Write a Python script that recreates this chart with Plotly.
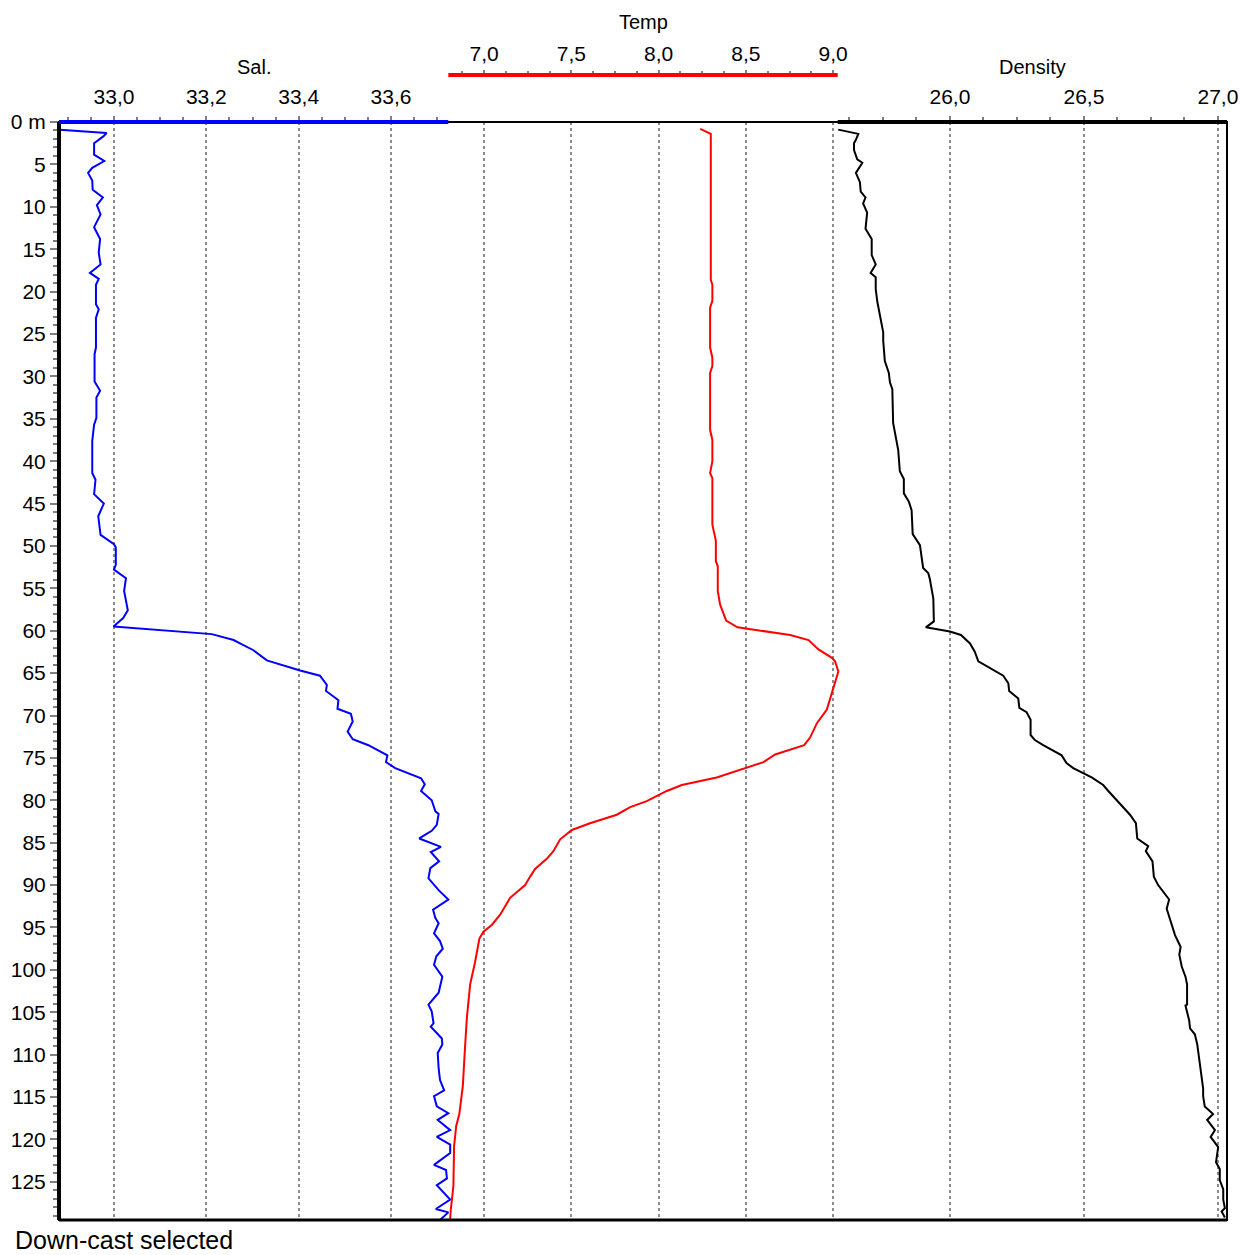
import plotly.graph_objects as go

# ---------------- data ----------------
sal_depth = [0.9, 1.3, 1.7, 2.5, 3.85, 4.6, 5.4, 6.0, 6.9, 8.0, 8.9, 9.8, 10.9, 12.4, 13.8, 15.4, 16.8,
             17.8, 18.5, 19.2, 21.5, 22.1, 23.1, 26.6, 27.4, 30.6, 31.7, 32.5, 34.9, 35.7, 37.6, 41.4,
             42.2, 43.9, 45.0, 46.5, 48.7, 49.8, 50.2, 52.2, 52.8, 53.8, 55.3, 57.6, 58.5, 59.5, 60.4,
             61.1, 61.5, 62.3, 63.5, 64.7, 65.3, 66.4, 67.1, 68.2, 69.2, 69.8, 70.7, 71.9, 72.8, 73.5,
             74.7, 75.5, 76.2, 77.4, 78.1, 78.9, 80.0, 81.3, 81.6, 82.9, 83.6, 84.5, 85.5, 86.1, 87.2,
             88.0, 89.2, 90.6, 91.7, 92.9, 93.9, 94.5, 95.7, 96.6, 97.5, 98.4, 99.4, 100.8, 102.7, 104.1,
             104.9, 106.3, 106.7, 108.1, 108.8, 109.8, 111.6, 113.0, 114.2, 114.9, 116.1, 116.9, 117.7,
             118.9, 119.7, 120.6, 121.6, 123.0, 123.6, 124.6, 125.4, 127.1, 128.2, 128.6, 129.5]
sal = [32.883, 32.984, 32.977, 32.957, 32.957, 32.979, 32.953, 32.944, 32.953, 32.954, 32.976, 32.963,
       32.971, 32.957, 32.970, 32.967, 32.971, 32.948, 32.967, 32.961, 32.961, 32.967, 32.961, 32.961,
       32.958, 32.958, 32.970, 32.962, 32.962, 32.957, 32.953, 32.953, 32.960, 32.957, 32.978, 32.966,
       32.971, 33.000, 33.004, 33.004, 33.000, 33.026, 33.022, 33.030, 33.020, 32.999, 33.212, 33.259,
       33.273, 33.302, 33.331, 33.403, 33.446, 33.461, 33.459, 33.486, 33.484, 33.513, 33.517, 33.506,
       33.517, 33.551, 33.592, 33.589, 33.609, 33.665, 33.673, 33.665, 33.688, 33.696, 33.703, 33.699,
       33.688, 33.661, 33.708, 33.686, 33.704, 33.685, 33.681, 33.703, 33.724, 33.691, 33.696, 33.703,
       33.693, 33.706, 33.712, 33.698, 33.693, 33.711, 33.703, 33.681, 33.688, 33.692, 33.686, 33.710,
       33.711, 33.701, 33.703, 33.706, 33.715, 33.693, 33.699, 33.724, 33.701, 33.728, 33.699, 33.728,
       33.728, 33.693, 33.719, 33.721, 33.699, 33.728, 33.697, 33.724, 33.706]

temp_depth = [0.8, 1.4, 18.6, 19.2, 21.1, 21.9, 26.6, 27.8, 28.8, 29.6, 36.3, 37.5, 40.0, 41.4, 42.0,
              47.5, 49.4, 51.8, 52.4, 55.3, 56.9, 57.7, 58.8, 59.6, 60.5, 61.1, 62.2, 63.2, 63.6, 64.8,
              67.4, 69.3, 70.9, 72.6, 73.5, 74.6, 75.5, 76.2, 77.3, 78.2, 78.9, 79.4, 80.1, 80.8, 81.7,
              82.7, 83.5, 84.6, 86.0, 86.9, 88.1, 89.0, 90.0, 91.5, 93.5, 94.7, 95.5, 96.3, 99.1, 101.7,
              105.7, 109.0, 113.7, 117.0, 118.4, 120.8, 125.5, 128.3, 129.5]
temp = [8.238, 8.299, 8.299, 8.308, 8.308, 8.295, 8.295, 8.308, 8.308, 8.295, 8.295, 8.308, 8.308,
        8.295, 8.308, 8.308, 8.328, 8.328, 8.339, 8.339, 8.352, 8.366, 8.387, 8.452, 8.754, 8.859,
        8.916, 8.993, 9.011, 9.030, 8.993, 8.964, 8.907, 8.868, 8.834, 8.668, 8.601, 8.501, 8.333,
        8.133, 8.047, 7.999, 7.932, 7.837, 7.760, 7.607, 7.503, 7.436, 7.397, 7.359, 7.292, 7.264,
        7.235, 7.149, 7.092, 7.044, 6.996, 6.973, 6.948, 6.920, 6.901, 6.891, 6.878, 6.858, 6.840,
        6.828, 6.824, 6.809, 6.805]

dens_depth = [0.9, 1.4, 2.1, 2.5, 3.3, 4.4, 4.8, 6.0, 7.1, 8.2, 8.9, 9.6, 10.7, 12.6, 13.8, 15.7, 16.8,
              17.8, 18.3, 19.7, 21.2, 23.1, 24.8, 25.8, 28.2, 29.6, 30.7, 31.5, 35.5, 38.7, 41.2, 42.1,
              43.8, 44.8, 45.8, 48.6, 49.4, 49.9, 52.6, 53.2, 53.9, 56.2, 58.9, 59.6, 60.1, 60.5, 61.5,
              62.5, 63.6, 64.8, 65.3, 66.2, 67.1, 68.0, 69.1, 69.6, 70.5, 72.3, 72.9, 73.5, 74.7, 75.6,
              76.2, 77.3, 78.2, 78.9, 80.6, 81.7, 82.7, 84.5, 85.4, 86.0, 87.2, 89.0, 90.0, 91.7, 92.8,
              94.0, 95.9, 97.3, 98.2, 99.6, 100.8, 101.7, 104.1, 104.2, 106.0, 106.9, 107.6, 108.8,
              114.0, 114.9, 116.1, 117.0, 117.7, 118.9, 119.7, 120.9, 122.7, 123.5, 124.8, 125.9,
              127.1, 128.1, 128.5, 129.2]
dens = [25.583, 25.658, 25.649, 25.642, 25.642, 25.654, 25.673, 25.649, 25.664, 25.667, 25.685, 25.676,
        25.691, 25.685, 25.708, 25.708, 25.723, 25.704, 25.723, 25.723, 25.729, 25.741, 25.751, 25.751,
        25.757, 25.772, 25.776, 25.785, 25.788, 25.807, 25.813, 25.828, 25.828, 25.847, 25.857, 25.861,
        25.878, 25.888, 25.900, 25.919, 25.925, 25.938, 25.940, 25.910, 26.000, 26.041, 26.075, 26.093,
        26.106, 26.168, 26.199, 26.218, 26.221, 26.255, 26.259, 26.286, 26.301, 26.301, 26.317, 26.348,
        26.417, 26.435, 26.460, 26.529, 26.572, 26.591, 26.641, 26.672, 26.694, 26.699, 26.740, 26.731,
        26.756, 26.761, 26.777, 26.818, 26.809, 26.821, 26.840, 26.861, 26.856, 26.865, 26.879, 26.885,
        26.885, 26.879, 26.893, 26.896, 26.914, 26.923, 26.945, 26.945, 26.951, 26.982, 26.960, 26.989,
        26.973, 27.001, 26.993, 27.007, 27.007, 27.020, 27.020, 27.026, 27.014, 27.026]

sal_ticks = [33.0, 33.2, 33.4, 33.6]
sal_minor = [32.9, 32.95, 33.05, 33.1, 33.15, 33.25, 33.3, 33.35, 33.45, 33.5, 33.55, 33.65, 33.7]
temp_ticks = [7.0, 7.5, 8.0, 8.5, 9.0]
temp_minor = [6.875, 7.125, 7.25, 7.375, 7.625, 7.75, 7.875, 8.125, 8.25, 8.375, 8.625, 8.75, 8.875]
dens_ticks = [26.0, 26.5, 27.0]
dens_minor = [25.625, 25.75, 25.875, 26.125, 26.25, 26.375, 26.625, 26.75, 26.875]
depth_ticks = list(range(0, 130, 5))
depth_labels = ["0 m"] + [str(d) for d in range(5, 130, 5)]
depth_minor = [d for d in range(0, 130) if d % 5 != 0]

# each parameter's scale occupies one third of the plot width
SAL_SPAN = (32.881, 33.724)
TEMP_SPAN = (6.795, 9.026)
DENS_SPAN = (25.581, 27.034)
DEPTH_MAX = 129.5

# ---------------- layout geometry ----------------
W, H = 1241, 1255
ML, MR, MT, MB = 59, 14, 60, 35
PH = H - MT - MB
YDOM = (H - MB - 122) / PH
TEMP_POS = (H - MB - 75) / PH

FONT = "Liberation Sans, Arial, sans-serif"
GRID = "#8c8c8c"
TICKC = "#808080"
TICKFONT = 21


def full_range(span, k):
    w = span[1] - span[0]
    return [span[0] - k * w, span[0] + (3 - k) * w]


fig = go.Figure()
fig.add_trace(go.Scatter(x=sal, y=sal_depth, xaxis="x", yaxis="y", mode="lines",
                         line=dict(color="#0000ff", width=2), name="Sal."))
fig.add_trace(go.Scatter(x=temp, y=temp_depth, xaxis="x2", yaxis="y", mode="lines",
                         line=dict(color="#ff0000", width=2), name="Temp"))
fig.add_trace(go.Scatter(x=dens, y=dens_depth, xaxis="x3", yaxis="y", mode="lines",
                         line=dict(color="#000000", width=2), name="Density"))


def xaxis_common(rng, ticks, minor):
    return dict(
        range=rng, domain=[0, 1], side="top", tickmode="array", tickvals=ticks,
        tickformat=".1f", ticks="outside", ticklen=5, tickwidth=2, tickcolor=TICKC,
        showgrid=True, gridcolor=GRID, griddash="dot", gridwidth=1.5,
        showline=False, zeroline=False, automargin=False,
        tickfont=dict(family=FONT, size=TICKFONT, color="black"),
        minor=dict(tickmode="array", tickvals=minor, ticks="outside", ticklen=4,
                   tickwidth=2, tickcolor=TICKC, showgrid=False),
    )


xa1 = xaxis_common(full_range(SAL_SPAN, 0), sal_ticks, sal_minor)
xa1.update(anchor="y", ticklabelstandoff=4)
xa2 = xaxis_common(full_range(TEMP_SPAN, 1), temp_ticks, temp_minor)
xa2.update(overlaying="x", anchor="free", position=TEMP_POS, ticklabelstandoff=1)
xa3 = xaxis_common(full_range(DENS_SPAN, 2), dens_ticks, dens_minor)
xa3.update(overlaying="x", anchor="y", ticklabelstandoff=4)

fig.update_layout(
    width=W, height=H, template="none",
    margin=dict(l=ML, r=MR, t=MT, b=MB, pad=0),
    paper_bgcolor="white", plot_bgcolor="white",
    separators=", ",
    showlegend=False,
    font=dict(family=FONT, size=20, color="black"),
    xaxis=xa1, xaxis2=xa2, xaxis3=xa3,
    yaxis=dict(
        range=[DEPTH_MAX, 0], domain=[0, YDOM], anchor="x",
        tickmode="array", tickvals=depth_ticks, ticktext=depth_labels,
        ticks="outside", ticklen=8, tickwidth=2, tickcolor=TICKC,
        showgrid=False, zeroline=False, showline=False, automargin=False,
        tickfont=dict(family=FONT, size=TICKFONT, color="black"), ticklabelstandoff=0,
        minor=dict(tickmode="array", tickvals=depth_minor, ticks="outside", ticklen=5,
                   tickwidth=2, tickcolor=TICKC, showgrid=False),
    ),
)

shapes = [
    # plot frame
    dict(type="rect", xref="paper", yref="paper", x0=0, x1=1, y0=0, y1=YDOM,
         line=dict(color="black", width=2), layer="above"),
    dict(type="line", xref="paper", yref="paper", x0=0, x1=0, y0=0, y1=YDOM,
         line=dict(color="black", width=4)),
    dict(type="line", xref="paper", yref="paper", x0=0, x1=1, y0=0, y1=0,
         line=dict(color="black", width=3)),
    # coloured scale bars
    dict(type="line", xref="x", yref="paper", x0=SAL_SPAN[0], x1=SAL_SPAN[1], y0=YDOM, y1=YDOM,
         line=dict(color="#0000ff", width=4)),
    dict(type="line", xref="x2", yref="paper", x0=TEMP_SPAN[0], x1=TEMP_SPAN[1],
         y0=TEMP_POS, y1=TEMP_POS, line=dict(color="#ff0000", width=4)),
    dict(type="line", xref="x3", yref="paper", x0=DENS_SPAN[0], x1=DENS_SPAN[1], y0=YDOM, y1=YDOM,
         line=dict(color="#000000", width=4)),
]
fig.update_layout(shapes=shapes)


def py(pix):
    return (H - MB - pix) / PH


annos = [
    dict(text="Sal.", x=1 / 6, y=py(67)),
    dict(text="Temp", x=0.5, y=py(22)),
    dict(text="Density", x=5 / 6, y=py(67)),
]
for a in annos:
    fig.add_annotation(xref="paper", yref="paper", xanchor="center", yanchor="middle",
                       showarrow=False, font=dict(family=FONT, size=20, color="black"), **a)
fig.add_annotation(text="Down-cast selected", xref="paper", yref="paper",
                   x=(13 - ML) / (W - ML - MR), y=py(1256), xanchor="left", yanchor="bottom",
                   showarrow=False, font=dict(family=FONT, size=25, color="black"))

fig.write_html("out.html")
